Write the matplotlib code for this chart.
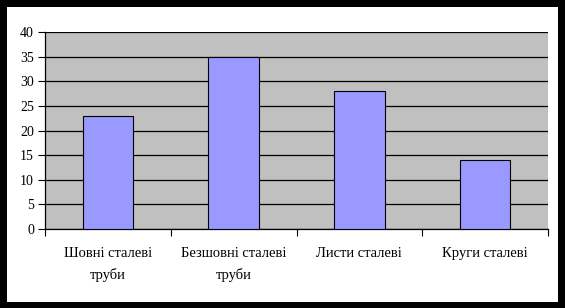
import numpy as np
import matplotlib.pyplot as plt
from matplotlib.patches import Rectangle

categories = ["Шовні сталеві\nтруби", "Безшовні сталеві\nтруби", "Листи сталеві", "Круги сталеві"]
values = [23, 35, 28, 14]
y_ticks = [0, 5, 10, 15, 20, 25, 30, 35, 40]

W, H = 565, 308

plt.rcParams['font.family'] = ['Liberation Serif', 'DejaVu Serif']
plt.rcParams['font.size'] = 10

fig = plt.figure(figsize=(W / 100, H / 100), dpi=100, facecolor='black')
# white card inside the black frame, kept behind the axes
card = Rectangle((7 / W, 6 / H), (W - 14) / W, (H - 13) / H,
                 transform=fig.transFigure, facecolor='white',
                 edgecolor='none', zorder=-10)
fig.add_artist(card)

ax = fig.add_axes([45 / W, (H - 229) / H, (548 - 45) / W, (229 - 32) / H])
ax.set_zorder(1)
ax.set_facecolor('#c0c0c0')

x = np.arange(len(categories))
ax.bar(x, values, width=0.4, color='#9999ff', edgecolor='black', linewidth=0.8, zorder=3)

ax.set_xlim(-0.5, len(categories) - 0.5)
ax.set_ylim(0, 40)
ax.set_yticks(y_ticks)
ax.yaxis.grid(True, color='black', linewidth=0.9, zorder=1)
ax.set_axisbelow(True)

ax.set_xticks(x)
ax.set_xticklabels(categories, linespacing=1.7, fontsize=10.5)
ax.set_xticks(np.arange(-0.5, len(categories)), minor=True)
ax.tick_params(axis='x', which='major', length=0, pad=13)
ax.tick_params(axis='x', which='minor', length=5, width=0.8, direction='out')
ax.tick_params(axis='y', length=5, width=0.8, direction='out', pad=3)

ax.spines['right'].set_visible(False)
ax.spines['top'].set_visible(False)
ax.spines['left'].set_linewidth(0.9)
ax.spines['bottom'].set_linewidth(0.9)

fig.savefig('out.png', dpi=100, facecolor=fig.get_facecolor())
